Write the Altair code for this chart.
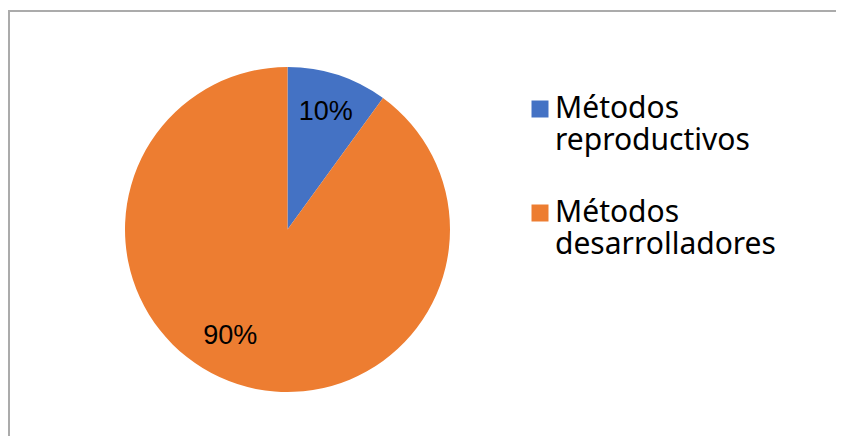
import altair as alt
import pandas as pd

categories = ["Métodos reproductivos", "Métodos desarrolladores"]
values = [10, 90]
labels = ["10%", "90%"]
colors = ["#4472C4", "#ED7D31"]

df = pd.DataFrame({"cat": categories, "val": values, "lab": labels,
                   "ord": list(range(len(categories)))})

pie = alt.Chart(df).mark_arc(radius=162.5).encode(
    theta=alt.Theta("val:Q", stack=True),
    order=alt.Order("ord:Q"),
    x=alt.value(279.5),
    y=alt.value(221.5),
    color=alt.Color(
        "cat:N",
        sort=categories,
        scale=alt.Scale(domain=categories, range=colors),
        legend=alt.Legend(
            title=None,
            orient="none",
            legendX=517,
            legendY=86,
            symbolType="square",
            symbolSize=289,
            symbolStrokeWidth=0,
            labelFont="Noto Sans",
            labelFontSize=30,
            labelColor="#000000",
            labelExpr="split(datum.label, ' ')",
            labelLimit=0,
            labelOffset=0,
            rowPadding=42,
            padding=0,
        ),
    ),
)

txt_base = alt.Chart(df).transform_stack(
    stack="val", as_=["v0", "v1"], groupby=[], sort=[alt.SortField("ord", order="ascending")]
).transform_calculate(mid="(datum.v0 + datum.v1) / 2").encode(
    theta=alt.Theta("mid:Q", stack=None),
    text="lab:N",
    x=alt.value(279.5),
    y=alt.value(221.5),
)

txt_font = "Liberation Sans"
t1 = txt_base.mark_text(radius=124, font=txt_font, fontSize=27, color="#000000").transform_filter(
    alt.datum.ord == 0
)
t2 = txt_base.mark_text(radius=124, font=txt_font, fontSize=27, color="#000000", dx=-19, dy=-11).transform_filter(
    alt.datum.ord == 1
)

border = alt.Chart(alt.Data(values=[{}]))
top_rule = border.mark_rule(color="#ABABAB", strokeWidth=2).encode(
    x=alt.value(0), x2=alt.value(828), y=alt.value(3)
)
left_rule = border.mark_rule(color="#ABABAB", strokeWidth=2).encode(
    x=alt.value(1), y=alt.value(2), y2=alt.value(428)
)

chart = alt.layer(pie, t1, t2, top_rule, left_rule).properties(
    width=828, height=428, autosize=alt.AutoSizeParams(type="none"), padding=0
).configure_view(stroke=None)

chart.save("out.html", embed_options={"renderer": "svg", "actions": False})
